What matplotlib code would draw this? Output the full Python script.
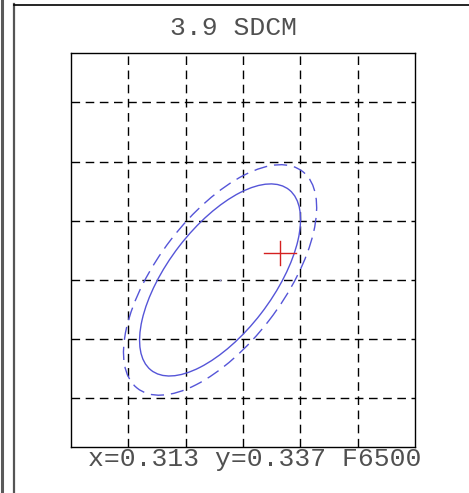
import matplotlib
matplotlib.use("Agg")
import matplotlib.pyplot as plt
from matplotlib.patches import Ellipse
from matplotlib.lines import Line2D

# chart values
sdcm = 3.9
illuminant = "F6500"
target_x, target_y = 0.313, 0.337          # ellipse centre / reference white
sample_x, sample_y = 0.3182, 0.3393        # measured point (red cross)
ellipse_steps = [5, 6]                      # solid, dashed
step_a, step_b, ellipse_angle = 0.001942, 0.000912, 51.5
x_grid = [0.305, 0.310, 0.315, 0.320, 0.325]
y_grid = [0.327, 0.332, 0.337, 0.342, 0.347, 0.352]
x_limits = (0.300, 0.330)
y_limits = (0.32289, 0.35617)

W, H = 469, 493
fig = plt.figure(figsize=(W / 100, H / 100), dpi=100)
fig.patch.set_facecolor("white")

# panel frame lines
fig.add_artist(Line2D([1.5 / W, 1.5 / W], [0, 1], color="#5a5a5a", lw=2.2))
fig.add_artist(Line2D([14 / W, 14 / W], [0, 1 - 4 / H], color="#555555", lw=1.6))
fig.add_artist(Line2D([14 / W, 1], [1 - 4.5 / H, 1 - 4.5 / H], color="black", lw=1.2))

ax = fig.add_axes([71 / W, 46 / H, 344 / W, 394 / H])
ax.set_xlim(*x_limits)
ax.set_ylim(*y_limits)
ax.set_xticks(x_grid)
ax.set_yticks(y_grid)
ax.tick_params(length=0, labelbottom=False, labelleft=False)
ax.grid(True, color="black", linestyle=(0, (6.2, 4.0)), linewidth=1.0)
for s in ax.spines.values():
    s.set_linewidth(1.0)
    s.set_color("black")

styles = ["-", (0, (9.5, 5.0))]
for steps, ls in zip(ellipse_steps, styles):
    e = Ellipse((target_x, target_y), 2 * step_a * steps, 2 * step_b * steps,
                angle=ellipse_angle, fill=False, edgecolor="#5555d8",
                linestyle=ls, linewidth=1.0, zorder=3)
    ax.add_patch(e)

ax.plot([target_x], [target_y], marker="o", markersize=1.5, color="#9999cc",
        markeredgewidth=0, zorder=3)

arm_x, arm_y = 0.0014, 0.00101
ax.plot([sample_x - arm_x, sample_x + arm_x], [sample_y, sample_y],
        color="#d42020", lw=1.0, zorder=4)
ax.plot([sample_x, sample_x], [sample_y - arm_y, sample_y + arm_y],
        color="#d42020", lw=1.0, zorder=4)

fig.text(170 / W, 1 - 35 / H, f"{sdcm} SDCM", family="Liberation Mono",
         fontsize=19, color="#505050", ha="left", va="baseline")
fig.text(88 / W, 1 - 466 / H, f"x={target_x:.3f} y={target_y:.3f} {illuminant}",
         family="Liberation Mono", fontsize=19, color="#505050",
         ha="left", va="baseline")

fig.savefig("out.png", dpi=100, facecolor="white")
